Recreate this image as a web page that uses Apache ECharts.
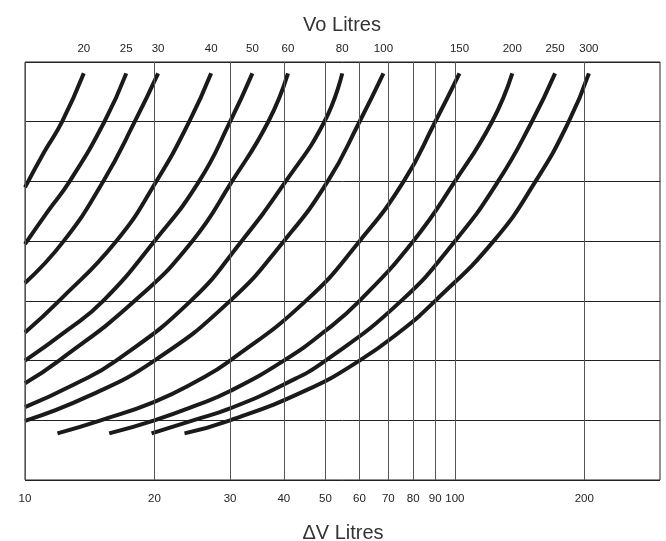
<!DOCTYPE html>
<html>
<head>
<meta charset="utf-8">
<title>Vo Litres</title>
<script src="https://cdn.jsdelivr.net/npm/echarts@6.0.0/dist/echarts.min.js"></script>
<style>
  html, body { margin: 0; padding: 0; background: #fff; }
  #main { width: 666px; height: 541px; }
</style>
</head>
<body>
<div id="main"></div>
<script>
// ΔV litres (x) against the chart level (y), one curve for each Vo
const vo20 = [[10, 4.9], [11.1, 5.5], [12.2, 6], [13.7, 6.81]]
const vo25 = [[10, 3.95], [11.3, 4.5], [12.7, 5], [15.3, 6], [17.2, 6.81]]
const vo30 = [[10, 3.3], [12.3, 4], [15.2, 5], [18, 6], [20.4, 6.81]]
const vo40 = [[10, 2.47], [12, 3], [16.3, 4], [20.2, 5], [24.1, 6], [27.1, 6.81]]
const vo50 = [[10, 2], [12.5, 2.5], [15.2, 3], [20, 4], [25.4, 5], [30, 6], [33.8, 6.81]]
const vo60 = [[10, 1.62], [12, 2], [18, 3], [24.5, 4], [30.3, 5], [36.8, 6], [40.9, 6.81]]
const vo80 = [[10, 1.22], [13, 1.6], [16.3, 2], [24.3, 3], [31.9, 4], [40.4, 5], [49.7, 6], [54.7, 6.81]]
const vo100 = [[10, 0.99], [14, 1.4], [20, 2], [30, 3], [40, 4], [50.6, 5], [60, 6], [68.2, 6.81]]
const vo150 = [[11.9, 0.78], [15, 1], [20, 1.31], [25, 1.65], [30, 2], [45, 3], [60, 4], [76, 5], [90, 6], [102.5, 6.81]]
const vo200 = [[15.7, 0.78], [20, 1], [25, 1.25], [30, 1.49], [40, 2], [50, 2.5], [60, 3], [80, 4], [100, 5], [122, 6], [136, 6.81]]
const vo250 = [[19.7, 0.78], [24.6, 1], [30, 1.2], [40, 1.6], [50, 2], [75, 3], [100, 4], [126, 5], [151, 6], [171, 6.81]]
const vo300 = [[23.5, 0.78], [30, 1], [45, 1.5], [60, 2], [75, 2.5], [90, 3], [123, 4], [154, 5], [184, 6], [205, 6.81]]

const voNames = ['20', '25', '30', '40', '50', '60', '80', '100', '150', '200', '250', '300']
const voCurves = [vo20, vo25, vo30, vo40, vo50, vo60, vo80, vo100, vo150, vo200, vo250, vo300]

// ΔV tick values along the bottom
const xTicks = [10, 20, 30, 40, 50, 60, 70, 80, 90, 100, 200]

const fontName = '"Liberation Sans", Arial, sans-serif'

const chart = echarts.init(document.getElementById('main'))

// 一条曲线一个 series
const curveSeries = voCurves.map((pts, i) => {
  return {
    name: voNames[i],
    type: 'line',
    data: pts,
    smooth: 0.5,
    symbol: 'none',
    silent: true,
    z: 3,
    lineStyle: { color: '#1a1a1a', width: 4 },
    emphasis: { disabled: true },
    endLabel: {
      show: true,
      formatter: p => p.seriesName,
      align: 'center',
      verticalAlign: 'bottom',
      distance: 0,
      offset: [0, -19],
      color: '#222',
      fontSize: 11.5,
      fontFamily: fontName
    }
  }
})

// vertical grid lines + bottom labels
const gridSeries = {
  name: 'grid',
  type: 'line',
  data: [],
  silent: true,
  z: 1,
  markLine: {
    silent: true,
    symbol: ['none', 'none'],
    animation: false,
    lineStyle: { color: '#555', width: 1, type: 'solid' },
    label: {
      show: true,
      position: 'start',
      distance: 13,
      formatter: p => p.value,
      color: '#222',
      fontSize: 11.5,
      fontFamily: fontName
    },
    emphasis: { disabled: true },
    data: xTicks.map(v => ({ xAxis: v }))
  }
}

const option = {
  animation: false,
  backgroundColor: '#fff',
  title: [
    {
      text: 'Vo Litres',
      left: 342,
      top: 15,
      textAlign: 'center',
      padding: 0,
      textStyle: { color: '#333', fontSize: 20, fontWeight: 'normal', fontFamily: fontName }
    },
    {
      text: 'ΔV Litres',
      left: 343,
      top: 523,
      textAlign: 'center',
      padding: 0,
      textStyle: { color: '#333', fontSize: 20, fontWeight: 'normal', fontFamily: fontName }
    }
  ],
  grid: {
    left: 25,
    right: 6,
    top: 62,
    bottom: 61,
    show: true,
    borderColor: '#222',
    borderWidth: 1
  },
  xAxis: {
    type: 'log',
    logBase: 10,
    min: 10,
    max: 300,
    axisLine: { show: false },
    axisTick: { show: false },
    axisLabel: { show: false },
    splitLine: { show: false }
  },
  yAxis: {
    type: 'value',
    min: 0,
    max: 7,
    interval: 1,
    axisLine: { show: false },
    axisTick: { show: false },
    axisLabel: { show: false },
    splitLine: { show: true, lineStyle: { color: '#222', width: 1 } }
  },
  series: [gridSeries].concat(curveSeries)
}

chart.setOption(option)
</script>
</body>
</html>
